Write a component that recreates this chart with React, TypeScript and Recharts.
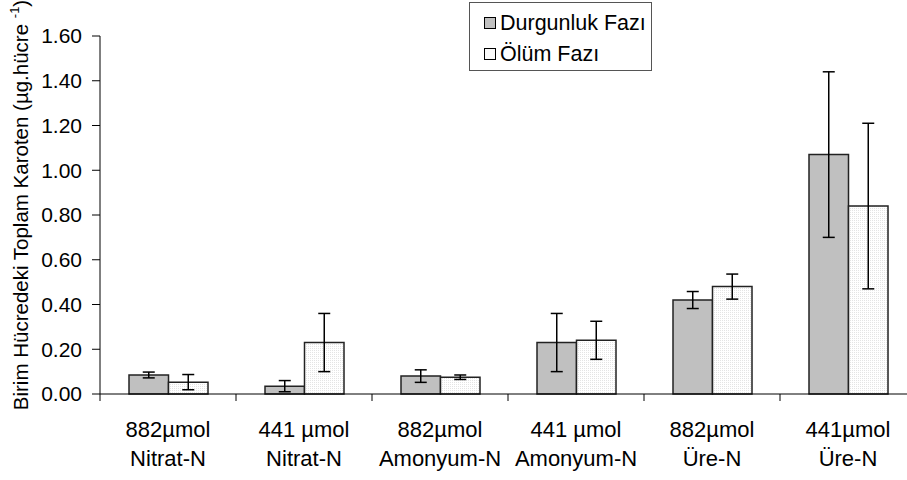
import { BarChart, Bar, XAxis, YAxis, ErrorBar } from "recharts";

const line1 = ["882µmol", "441 µmol", "882µmol", "441 µmol", "882µmol", "441µmol"];
const line2 = ["Nitrat-N", "Nitrat-N", "Amonyum-N", "Amonyum-N", "Üre-N", "Üre-N"];
const durgunluk = [0.085, 0.035, 0.08, 0.23, 0.42, 1.07];
const durgunlukErr = [0.013, 0.025, 0.028, 0.13, 0.038, 0.37];
const olum = [0.053, 0.23, 0.075, 0.24, 0.48, 0.84];
const olumErr = [0.034, 0.13, 0.01, 0.085, 0.056, 0.37];
const yTicks = [0, 0.2, 0.4, 0.6, 0.8, 1.0, 1.2, 1.4, 1.6];
const seriesNames = ["Durgunluk Fazı", "Ölüm Fazı"];

const data = line1.map((l, i) => ({
  name: `${l} ${line2[i]}`,
  l1: l,
  l2: line2[i],
  durgunluk: durgunluk[i],
  dErr: durgunlukErr[i],
  olum: olum[i],
  oErr: olumErr[i],
}));

const FONT = "'Liberation Sans', Arial, sans-serif";
const BAND = 136;

function CatTick(props: any) {
  const { x, y, index } = props;
  const d = data[index];
  return (
    <g>
      <line x1={x - BAND / 2} y1={y - 8} x2={x - BAND / 2} y2={y - 1} stroke="#000" />
      {index === data.length - 1 && (
        <line x1={x + BAND / 2} y1={y - 8} x2={x + BAND / 2} y2={y - 1} stroke="#000" />
      )}
      <text x={x} y={y + 35} textAnchor="middle" fontSize={22} fontFamily={FONT} fill="#000">
        {d?.l1}
      </text>
      <text x={x} y={y + 64} textAnchor="middle" fontSize={22} fontFamily={FONT} fill="#000">
        {d?.l2}
      </text>
    </g>
  );
}

function LegendBox() {
  const fills = ["#c0c0c0", "#fafafa"];
  return (
    <div
      style={{
        position: "absolute",
        left: 469,
        top: 2,
        width: 183,
        height: 69,
        border: "1px solid #555",
        background: "#fff",
        fontFamily: FONT,
        fontSize: 21.5,
        boxSizing: "border-box",
        paddingTop: 4,
      }}
    >
      {seriesNames.map((label, i) => (
        <div key={label} style={{ display: "flex", alignItems: "center", height: 31, paddingLeft: 14 }}>
          <span
            style={{
              display: "inline-block",
              width: 10,
              height: 10,
              border: "1px solid #000",
              background: fills[i],
              marginRight: 4,
            }}
          />
          <span style={{ lineHeight: "24px" }}>{label}</span>
        </div>
      ))}
    </div>
  );
}

function YLabel() {
  return (
    <text
      transform="translate(28,205) rotate(-90)"
      textAnchor="middle"
      fontSize={20.5}
      fontFamily={FONT}
      fill="#000"
    >
      Birim Hücredeki Toplam Karoten (µg.hücre{" "}
      <tspan fontSize={13} dy={-9}>-1</tspan>
      <tspan dy={9}>)</tspan>
    </text>
  );
}

export default function App() {
  return (
    <div style={{ position: "absolute", left: 0, top: 0, width: 907, height: 480, overflow: "hidden", background: "#fff" }}>
      <BarChart
        width={920}
        height={480}
        data={data}
        margin={{ top: 36, right: 4, left: 0, bottom: 0 }}
        barSize={39.5}
        barGap={0}
      >
        <defs>
          <pattern id="dots" width={2} height={2} patternUnits="userSpaceOnUse">
            <rect width={2} height={2} fill="#ffffff" />
            <rect width={1} height={1} fill="#e4e4e4" />
          </pattern>
        </defs>
        <XAxis
          dataKey="name"
          height={86}
          interval={0}
          tickLine={false}
          tickMargin={0}
          tickSize={8}
          stroke="#000"
          tick={<CatTick />}
        />
        <YAxis
          width={100}
          domain={[0, 1.6]}
          ticks={yTicks}
          tickFormatter={(v: number) => v.toFixed(2)}
          tickSize={8}
          tickMargin={10}
          stroke="#000"
          tick={{ fontSize: 21, fontFamily: FONT, fill: "#000" }}
          label={<YLabel />}
        />
        <Bar dataKey="durgunluk" name={seriesNames[0]} fill="#c0c0c0" stroke="#222" strokeWidth={1.5} isAnimationActive={false}>
          <ErrorBar dataKey="dErr" width={6} stroke="#000" strokeWidth={1.5} direction="y" />
        </Bar>
        <Bar dataKey="olum" name={seriesNames[1]} fill="url(#dots)" stroke="#222" strokeWidth={1.5} isAnimationActive={false}>
          <ErrorBar dataKey="oErr" width={6} stroke="#000" strokeWidth={1.5} direction="y" />
        </Bar>
      </BarChart>
      <LegendBox />
    </div>
  );
}
